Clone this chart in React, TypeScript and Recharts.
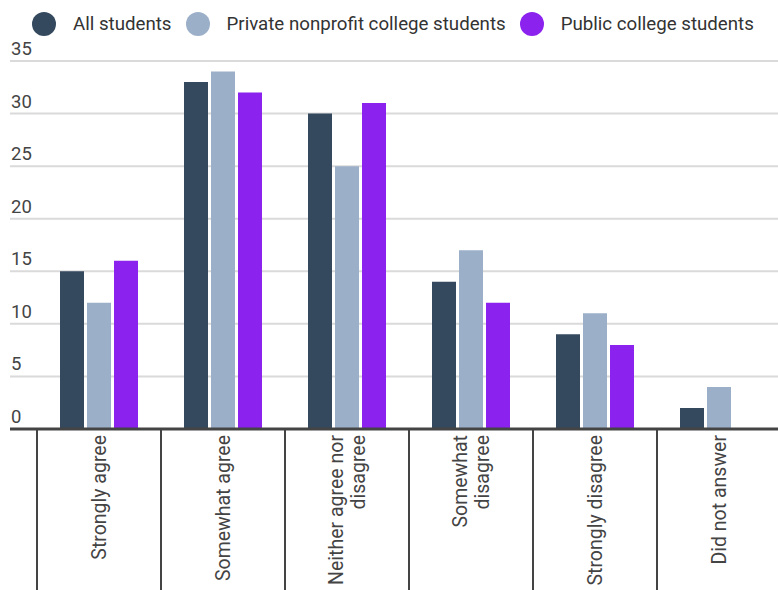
import React from 'react';
import { BarChart, Bar, XAxis, YAxis, CartesianGrid, Legend } from 'recharts';

const categories = [
  'Strongly agree',
  'Somewhat agree',
  'Neither agree nor disagree',
  'Somewhat disagree',
  'Strongly disagree',
  'Did not answer',
];
const categoryLines: string[][] = [
  ['Strongly agree'],
  ['Somewhat agree'],
  ['Neither agree nor', 'disagree'],
  ['Somewhat', 'disagree'],
  ['Strongly disagree'],
  ['Did not answer'],
];
const allStudents = [15, 33, 30, 14, 9, 2];
const privateStudents = [12, 34, 25, 17, 11, 4];
const publicStudents = [16, 32, 31, 12, 8, 0];
const yTicks = [0, 5, 10, 15, 20, 25, 30, 35];

const seriesNames = ['All students', 'Private nonprofit college students', 'Public college students'];
const seriesColors = ['#34495E', '#9BB0C8', '#8C22EE'];

const data = categories.map((c, i) => ({
  name: c,
  all: allStudents[i],
  priv: privateStudents[i],
  pub: publicStudents[i],
}));

const FONT = 'Roboto, "Noto Sans", sans-serif';
const CHART_W = 790;
const CHART_H = 600;
const PLOT_BOTTOM = 429;
const M_LEFT = 9;
const Y_W = 1;
const PLOT_LEFT = M_LEFT + Y_W;
const M_RIGHT = 9;
const PAD_LEFT = 27;
const BAND = (CHART_W - PLOT_LEFT - M_RIGHT - PAD_LEFT) / categories.length;

const XTick = (props: any) => {
  const { x, y, payload } = props;
  const idx = payload.index ?? categories.indexOf(payload.value);
  const lines = categoryLines[idx] || [String(payload.value)];
  const lh = 21.5;
  const top = y - 2;
  const startDy = -((lines.length - 1) * lh) / 2;
  return (
    <g>
      <line x1={x - BAND / 2} x2={x - BAND / 2} y1={y - 8} y2={CHART_H} stroke="#444" strokeWidth={2} />
      <text
        transform={`translate(${x},${top}) rotate(-90)`}
        textAnchor="end"
        fill="#444"
        fontSize={19.5}
        fontFamily={FONT}
      >
        {lines.map((l, i) => (
          <tspan key={i} x={0} y={startDy + i * lh} dy="0.35em">
            {l}
          </tspan>
        ))}
      </text>
    </g>
  );
};

const YTick = (props: any) => {
  const { y, payload } = props;
  return (
    <text x={PLOT_LEFT + 1} y={y - 6} fill="#444" fontSize={18.5} fontFamily={FONT} textAnchor="start">
      {payload.value}
    </text>
  );
};

const LegendContent = () => (
  <div style={{ display: 'flex', alignItems: 'center', fontFamily: FONT, fontSize: 18.7, color: '#333', paddingLeft: 32, height: 47 }}>
    {seriesNames.map((n, i) => (
      <div key={n} style={{ display: 'flex', alignItems: 'center', marginRight: 14 }}>
        <span style={{ width: 24, height: 24, borderRadius: 12, background: seriesColors[i], display: 'inline-block', marginRight: 17 }} />
        <span>{n}</span>
      </div>
    ))}
  </div>
);

export default function App() {
  return (
    <div style={{ position: 'absolute', left: 0, top: 0, width: 778, height: 590, overflow: 'hidden' }}>
      <BarChart
        width={CHART_W}
        height={CHART_H}
        data={data}
        margin={{ top: 61, right: M_RIGHT, bottom: 0, left: M_LEFT }}
        barCategoryGap={23}
        barGap={3}
      >
        <CartesianGrid horizontal vertical={false} stroke="#dadada" strokeWidth={2} />
        <Legend
          verticalAlign="middle"
          align="center"
          layout="horizontal"
          content={<LegendContent />}
          wrapperStyle={{ top: 0, left: 0, width: 778, height: 47 }}
        />
        <XAxis
          dataKey="name"
          interval={0}
          height={CHART_H - PLOT_BOTTOM}
          padding={{ left: PAD_LEFT, right: 0 }}
          tickLine={false}
          axisLine={{ stroke: '#444', strokeWidth: 3 }}
          tick={<XTick />}
        />
        <YAxis
          width={Y_W}
          domain={[0, 35]}
          ticks={yTicks}
          interval={0}
          axisLine={false}
          tickLine={false}
          tick={<YTick />}
        />
        <Bar dataKey="all" name={seriesNames[0]} fill={seriesColors[0]} isAnimationActive={false} />
        <Bar dataKey="priv" name={seriesNames[1]} fill={seriesColors[1]} isAnimationActive={false} />
        <Bar dataKey="pub" name={seriesNames[2]} fill={seriesColors[2]} isAnimationActive={false} />
      </BarChart>
    </div>
  );
}
